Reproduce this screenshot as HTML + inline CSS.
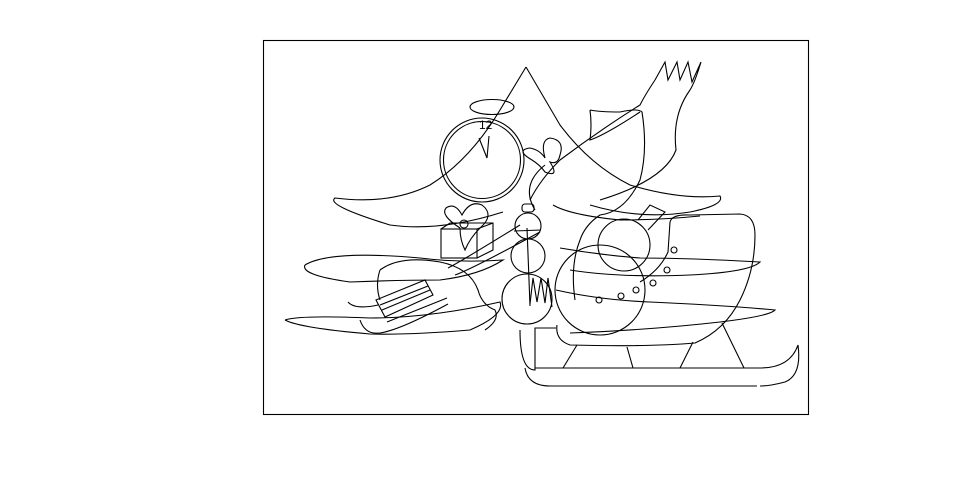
<!DOCTYPE html>
<html><head><meta charset="utf-8"><style>html,body{margin:0;padding:0;background:#fff}svg{display:block}</style></head>
<body>
<svg width="968" height="484" viewBox="0 0 968 484" xmlns="http://www.w3.org/2000/svg" fill="none" stroke="#000" stroke-width="1.1">
<rect x="263.5" y="40.5" width="545" height="374"/>
<!-- tree -->
<path d="M526,67 L500,110 Q470,160 430,185 Q390,205 335,198 Q325,205 390,225 Q440,232 503,212"/>
<path d="M526,67 L560,125 Q590,165 630,185 Q680,200 720,196 Q725,205 690,212 Q640,220 590,205"/>
<path d="M305,265 Q330,250 420,258 Q460,263 503,260 Q480,275 440,280 Q400,280 350,282 Q300,275 305,265"/>
<path d="M285,320 Q300,315 370,318 Q430,318 500,302 Q505,315 470,330 Q410,335 370,334 Q300,328 285,320"/>
<path d="M553,205 Q570,215 620,220 Q660,220 700,216"/>
<path d="M560,248 Q600,255 640,258 Q690,258 760,262 Q750,272 690,275 Q620,278 570,270"/>
<path d="M556,290 Q600,300 650,302 Q720,305 775,310 Q770,316 720,322 Q650,330 570,333"/>
<!-- clock -->
<ellipse cx="492" cy="107" rx="22" ry="7.5"/>
<circle cx="482" cy="160" r="42"/>
<circle cx="482" cy="160" r="38.5"/>
<text x="479" y="129" font-family="Liberation Sans, sans-serif" font-size="12" fill="#000" stroke="none">12</text>
<path d="M479,138 L487,158 L489,136"/>
<!-- bow -->
<path d="M532,160 Q515,150 530,148 Q540,150 545,158 Q540,140 550,138 Q565,140 560,155 Q558,165 550,162 Q560,178 545,172 Q540,165 532,160"/>
<path d="M545,165 Q520,185 535,210"/>
<!-- scarf -->
<path d="M655,80 L665,62 L668,80 L677,62 L680,80 L688,62 L692,82 L701,62 Q695,82 690,90 Q672,115 676,150 Q665,180 600,200"/>
<path d="M655,80 Q645,95 640,105 Q600,130 560,160 Q540,180 530,200"/>
<!-- tube / boot -->
<path d="M590,110 Q600,112 620,112 Q638,108 642,112 Q648,150 640,180 Q625,212 600,215 Q585,225 580,240 Q570,265 575,300"/>
<path d="M590,110 Q592,125 590,140 Q605,135 640,112"/>
<!-- present -->
<rect x="441" y="229" width="36" height="29"/>
<path d="M441,229 L450,223 L493,223 L493,250 L477,258 M477,229 L493,223"/>
<circle cx="464" cy="224" r="4"/>
<path d="M460,228 Q440,215 446,208 Q455,202 462,215 Q470,200 482,205 Q495,215 480,228 Q470,238 465,250 Q460,240 460,228"/>
<!-- snowman middle -->
<circle cx="528" cy="226" r="13"/>
<circle cx="528" cy="256" r="17"/>
<circle cx="527" cy="299" r="25"/>
<rect x="522" y="204" width="12" height="8" rx="3"/>
<path d="M514,231 L541,230 M527,228 L530,306"/>
<path d="M530,304 L533,278 L537,302 L541,278 L545,303 L548,278 L552,307"/>
<path d="M448,268 Q460,262 520,225 M455,275 Q470,270 540,232"/>
<!-- sled -->
<path d="M380,270 Q400,255 440,262 Q470,268 478,290 Q482,305 495,310 Q500,320 485,330"/>
<path d="M380,270 Q375,285 380,300"/>
<path d="M376,300 L425,280 L433,295 L385,317 Z M380,305 L428,286 M382,310 L430,290 M387,322 L447,298"/>
<path d="M348,302 Q355,310 378,305 M360,320 Q365,335 380,333 Q400,330 448,304"/>
<!-- big snowman -->
<circle cx="600" cy="290" r="45"/>
<circle cx="624" cy="245" r="26"/>
<path d="M638,220 L650,205 L665,212 L648,230"/>
<circle cx="599" cy="300" r="3"/><circle cx="621" cy="296" r="3"/><circle cx="636" cy="290" r="3"/><circle cx="653" cy="283" r="3"/><circle cx="667" cy="270" r="3"/><circle cx="674" cy="250" r="3"/>
<!-- sleigh body -->
<path d="M670,222 Q672,214 690,215 L740,214 Q755,215 755,235 Q755,270 740,300 Q725,330 695,343 Q650,347 570,345 Q555,340 557,325"/>
<path d="M670,222 L668,252 Q660,270 640,282"/>
<path d="M520,330 Q520,370 535,370 L535,328 L556,328"/>
<path d="M577,345 L563,368 M627,347 L633,368 M693,342 L680,368 M722,323 L744,368"/>
<path d="M535,368 L760,368 Q790,368 798,345 Q802,375 785,382 Q770,386 760,386 M757,386 L550,386 Q528,386 525,368"/>
</svg>
</body></html>
